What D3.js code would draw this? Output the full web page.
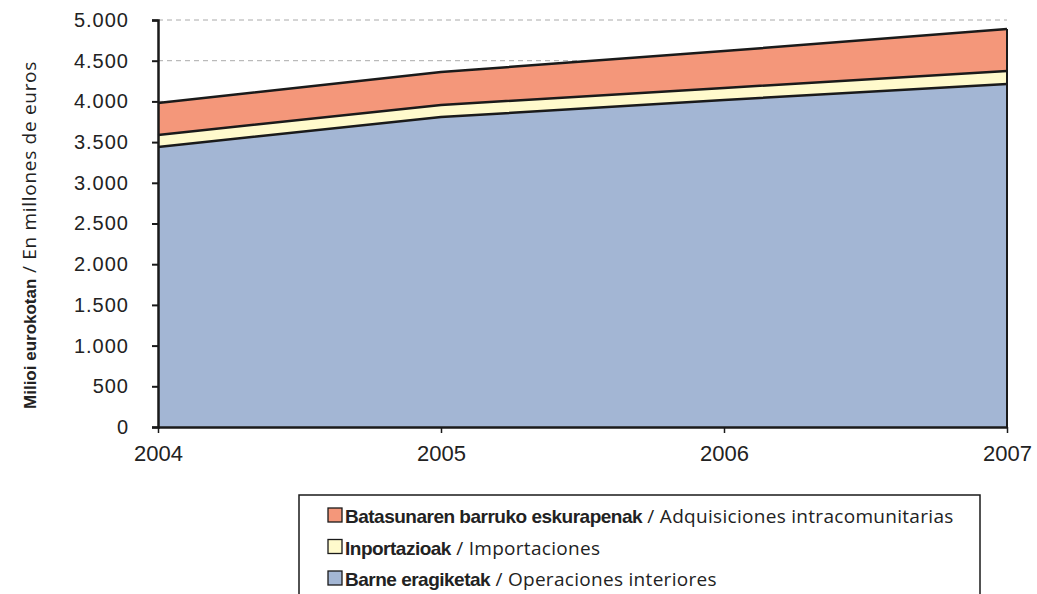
<!DOCTYPE html>
<html><head><meta charset="utf-8">
<script src="https://cdn.jsdelivr.net/npm/d3@7"></script>
<style>body{margin:0;background:#fff}svg{display:block}text{font-family:"Liberation Sans",Arial,sans-serif;fill:#222}</style>
</head><body><svg id="c" width="1037" height="594"></svg>
<script>
const years = [2004, 2005, 2006, 2007];
const barne = [3440, 3808, 4017, 4214];
const inportazioak = [147, 148, 148, 159];
const batasuna = [393, 405, 454, 516];
const yTicks = [0,500,1000,1500,2000,2500,3000,3500,4000,4500,5000];
const seriesNames = [
  {key:"batasuna", bold:"Batasunaren barruko eskurapenak", light:" / Adquisiciones intracomunitarias", color:"#F4977A"},
  {key:"inportazioak", bold:"Inportazioak", light:" / Importaciones", color:"#FFFACC"},
  {key:"barne", bold:"Barne eragiketak", light:" / Operaciones interiores", color:"#A3B6D4"}
];
const fmt = v => d3.format(",")(v).replace(/,/g,".");

const svg = d3.select("#c");
const x = d3.scaleLinear().domain([2004,2007]).range([158,1007]);
const y = d3.scaleLinear().domain([0,5000]).range([427,20]);

const table = years.map((yr,i)=>({year:yr, barne:barne[i], inportazioak:inportazioak[i], batasuna:batasuna[i]}));
const stack = d3.stack().keys(["barne","inportazioak","batasuna"])(table);
const colors = {barne:"#A3B6D4", inportazioak:"#FFFACC", batasuna:"#F4977A"};

// gridlines
svg.append("g").selectAll("line").data(yTicks.filter(d=>d>0)).join("line")
  .attr("x1",x(2004)).attr("x2",x(2007)).attr("y1",d=>y(d)).attr("y2",d=>y(d))
  .attr("stroke","#aaa").attr("stroke-width",1).attr("stroke-dasharray","5,4");

const area = d3.area().x(d=>x(d.data.year)).y0(d=>y(d[0])).y1(d=>y(d[1]));
svg.append("g").selectAll("path").data(stack).join("path")
  .attr("d",area).attr("fill",d=>colors[d.key]);
const line = d3.line().x(d=>x(d.data.year)).y(d=>y(d[1]));
svg.append("g").selectAll("path").data(stack).join("path")
  .attr("d",line).attr("fill","none").attr("stroke","#1a1a1a").attr("stroke-width",2.5);
// right edge
svg.append("line").attr("x1",x(2007)).attr("x2",x(2007)).attr("y1",y(0)).attr("y2",y(d3.sum([barne[3],inportazioak[3],batasuna[3]])))
  .attr("stroke","#1a1a1a").attr("stroke-width",2);

// axes
const yAxis = d3.axisLeft(y).tickValues(yTicks).tickFormat(fmt).tickSize(6).tickPadding(23);
const gy = svg.append("g").attr("transform",`translate(${x(2004)},0)`).call(yAxis);
gy.select(".domain").attr("stroke","#1a1a1a").attr("stroke-width",2.5);
gy.selectAll(".tick line").attr("stroke","#1a1a1a").attr("stroke-width",2);
gy.selectAll(".tick text").attr("font-size",20).attr("letter-spacing",1).attr("fill","#222")
  .style("font-family","'Liberation Sans',Arial,sans-serif");

const xAxis = d3.axisBottom(x).tickValues(years).tickFormat(d3.format("d")).tickSize(6).tickSizeOuter(0).tickPadding(12);
const gx = svg.append("g").attr("transform",`translate(0,${y(0)})`).call(xAxis);
gx.select(".domain").attr("stroke","#1a1a1a").attr("stroke-width",2.5);
gx.selectAll(".tick line").attr("stroke","#1a1a1a").attr("stroke-width",1.5);
gx.selectAll(".tick text").attr("font-size",22).attr("fill","#222")
  .style("font-family","'Liberation Sans',Arial,sans-serif");

// y title
const yt = svg.append("text").attr("transform","translate(36,235) rotate(-90)").attr("text-anchor","middle").attr("font-size",17);
yt.append("tspan").attr("font-weight","bold").style("font-family","'Liberation Sans',Arial,sans-serif").text("Milioi eurokotan");
yt.append("tspan").style("font-family","'Open Sans',sans-serif").attr("font-size",19).attr("letter-spacing",0.7).text(" / En millones de euros");

// legend
svg.append("rect").attr("x",299).attr("y",495).attr("width",681).attr("height",110)
  .attr("fill","#fff").attr("stroke","#1a1a1a").attr("stroke-width",1.5);
const lg = svg.append("g").selectAll("g").data(seriesNames).join("g")
  .attr("transform",(d,i)=>`translate(328,${523+i*31.5})`);
lg.append("rect").attr("x",0).attr("y",-15).attr("width",14).attr("height",14)
  .attr("fill",d=>d.color).attr("stroke","#1a1a1a").attr("stroke-width",1.3);
const lt = lg.append("text").attr("x",17).attr("y",0).attr("font-size",19);
lt.append("tspan").attr("font-weight","bold").attr("letter-spacing",-0.5)
  .style("font-family","'Liberation Sans',Arial,sans-serif").text(d=>d.bold);
lt.append("tspan").style("font-family","'Open Sans',sans-serif").attr("letter-spacing",0.3).text(d=>d.light);
</script></body></html>
